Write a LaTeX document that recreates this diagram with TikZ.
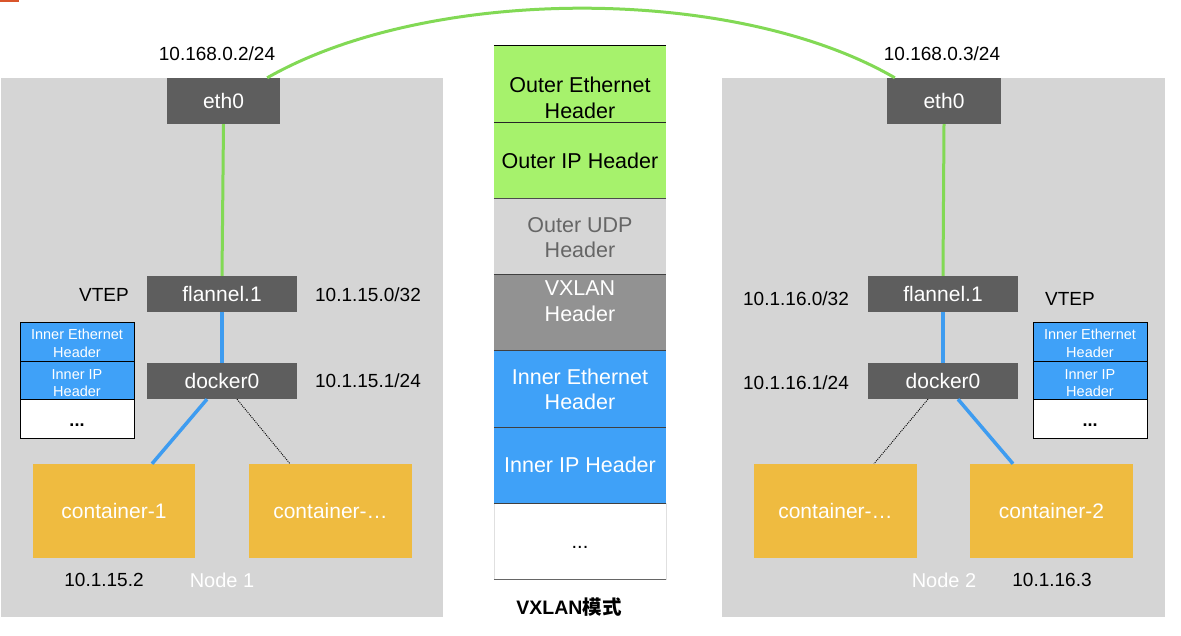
\documentclass[tikz,border=0pt]{standalone}
\usepackage{fontspec}
\setmainfont{Liberation Sans}
\newfontfamily\cjk{Noto Sans CJK SC}
\usetikzlibrary{calc}
\definecolor{panelgray}{HTML}{D5D5D5}
\definecolor{boxdark}{HTML}{5E5E5E}
\definecolor{linegreen}{HTML}{82D955}
\definecolor{lineblue}{HTML}{3E9CF0}
\definecolor{contyellow}{HTML}{EFBB40}
\definecolor{cellblue}{HTML}{3FA1F8}
\definecolor{cellgreen}{HTML}{A6F26C}
\definecolor{celllight}{HTML}{D6D6D6}
\definecolor{cellmid}{HTML}{929292}
\definecolor{markorange}{HTML}{D9552B}
\definecolor{udptext}{HTML}{666666}
\begin{document}
\begin{tikzpicture}[x=1pt,y=-1pt,
  panel/.style={fill=panelgray, draw=none, inner sep=0, minimum width=442, minimum height=539},
  devbox/.style={fill=boxdark, text=white, inner sep=0, minimum width=150, minimum height=36, font=\fontsize{21}{24}\selectfont},
  ethbox/.style={devbox, minimum width=113, minimum height=46},
  contbox/.style={fill=contyellow, text=white, inner sep=0, minimum width=162, minimum height=94, font=\fontsize{21}{24}\selectfont},
  lbl/.style={inner sep=0, font=\fontsize{19}{22}\selectfont},
  nodelbl/.style={lbl, text=white, font=\fontsize{20}{22}\selectfont},
  smallcell/.style={draw=black, line width=0.9, inner sep=0, minimum width=114, minimum height=38.5},
  smalltext/.style={inner sep=0, align=center, text=white, font=\fontsize{14.5}{17.5}\selectfont},
  bigcell/.style={draw=none, inner sep=0, minimum width=172, minimum height=76.2},
  bigtext/.style={inner sep=0, align=center, font=\fontsize{21.5}{25.5}\selectfont},
  dots/.style={inner sep=0, font=\fontsize{18}{20}\selectfont\bfseries},
  gline/.style={draw=linegreen, line width=3},
  bline/.style={draw=lineblue, line width=3.5},
  dline/.style={draw=black, line width=0.9, dash pattern=on 1pt off 1.1pt}
]
\useasboundingbox (0,0) rectangle (1181,636);
\fill[markorange] (0,0) rectangle (19,2);

% panels
\node[panel] (panelL) at (222,347.5) {};
\node[panel, minimum width=443] (panelR) at (943.5,347.5) {};

% left node
\node[ethbox] (ethL) at (223.5,101) {eth0};
\node[devbox] (flanL) at (222,294) {flannel.1};
\node[devbox] (dockL) at (222,381) {docker0};
\node[contbox] (c1) at (114,511) {container-1};
\node[contbox, minimum width=163] (cL) at (330.5,511) {container-\ldots};

% right node
\node[ethbox, minimum width=114] (ethR) at (944,101) {eth0};
\node[devbox] (flanR) at (943,294) {flannel.1};
\node[devbox] (dockR) at (943,381) {docker0};
\node[contbox, minimum width=163] (cR) at (835.5,511) {container-\ldots};
\node[contbox, minimum width=163] (c2) at (1051.5,511) {container-2};

% labels
\node[lbl] (ipL) at (217,54) {10.168.0.2/24};
\node[lbl] (ipR) at (942,54) {10.168.0.3/24};
\node[lbl] (vtepL) at (104,295) {VTEP};
\node[lbl] (fipL) at (368,295) {10.1.15.0/32};
\node[lbl] (dipL) at (368,381) {10.1.15.1/24};
\node[lbl] (cipL) at (104,580) {10.1.15.2};
\node[nodelbl] (nodeL) at (222,580) {Node 1};
\node[lbl] (fipR) at (796,299) {10.1.16.0/32};
\node[lbl] (vtepR) at (1070,299) {VTEP};
\node[lbl] (dipR) at (796,383) {10.1.16.1/24};
\node[nodelbl] (nodeR) at (944,580) {Node 2};
\node[lbl] (cipR) at (1052,580) {10.1.16.3};

% small header stacks
\foreach \side/\x in {L/77,R/1090}{
  \node[smallcell, fill=cellblue] (s1\side) at (\x,342) {};
  \node[smallcell, fill=cellblue] (s2\side) at (\x,380.5) {};
  \node[smallcell, fill=white] (s3\side) at (\x,419) {};
  \node[smalltext] (st1\side) at (\x,343.5) {Inner Ethernet\\Header};
  \node[smalltext] (st2\side) at (\x,383) {Inner IP\\Header};
  \node[dots] (st3\side) at (\x,425) {...};
}

% connectors
\draw[gline] ([xshift=-13]ethL.north east) .. controls (430,-15) and (735,-15) .. ([xshift=8]ethR.north west);
\draw[gline] (ethL.south) -- (flanL.north);
\draw[gline] (ethR.south) -- (flanR.north);
\draw[bline] (flanL.south) -- (dockL.north);
\draw[bline] (flanR.south) -- (dockR.north);
\draw[bline] ([xshift=-15]dockL.south) -- ([xshift=38]c1.north);
\draw[dline] ([xshift=15]dockL.south) -- ([xshift=-40.5]cL.north);
\draw[dline] ([xshift=-15]dockR.south) -- ([xshift=38.5]cR.north);
\draw[bline] ([xshift=15]dockR.south) -- ([xshift=-38.5]c2.north);

% center packet column
\node[bigcell, fill=cellgreen] (p1) at (580,84.1) {};
\node[bigcell, fill=cellgreen] (p2) at (580,160.3) {};
\node[bigcell, fill=celllight] (p3) at (580,236.5) {};
\node[bigcell, fill=cellmid] (p4) at (580,312.7) {};
\node[bigcell, fill=cellblue] (p5) at (580,388.9) {};
\node[bigcell, fill=cellblue] (p6) at (580,465.1) {};
\node[bigcell, fill=white] (p7) at (580,541.3) {};
\draw[black!12, line width=0.6] (p7.north west) -- (p7.south west) (p7.north east) -- (p7.south east);
\draw[black, line width=1] (p1.north west) -- (p1.north east);
\draw[black!85, line width=1] (p1.south west) -- (p1.south east);
\draw[black!70, line width=1] (p2.south west) -- (p2.south east);
\draw[black!75, line width=1] (p3.south west) -- (p3.south east);
\draw[black!75, line width=1] (p4.south west) -- (p4.south east);
\draw[black!75, line width=1] (p5.south west) -- (p5.south east);
\draw[black!75, line width=1] (p6.south west) -- (p6.south east);
\draw[black!60, line width=1.3] (p7.south west) -- (p7.south east);

\node[bigtext] (t1) at (580,98) {Outer Ethernet\\Header};
\node[bigtext] (t2) at (580,161) {Outer IP Header};
\node[bigtext, text=udptext] (t3) at (580,237.5) {Outer UDP\\Header};
\node[bigtext, text=white] (t4) at (580,301) {VXLAN\\Header};
\node[bigtext, text=white] (t5) at (580,389.5) {Inner Ethernet\\Header};
\node[bigtext, text=white] (t6) at (580,465) {Inner IP Header};
\node[dots, font=\fontsize{20}{22}\selectfont] (t7) at (580,547) {...};

\node[inner sep=0, font=\fontsize{19.5}{22}\selectfont\bfseries] (title) at (569,607) {VXLAN{\cjk 模式}};
\end{tikzpicture}
\end{document}
